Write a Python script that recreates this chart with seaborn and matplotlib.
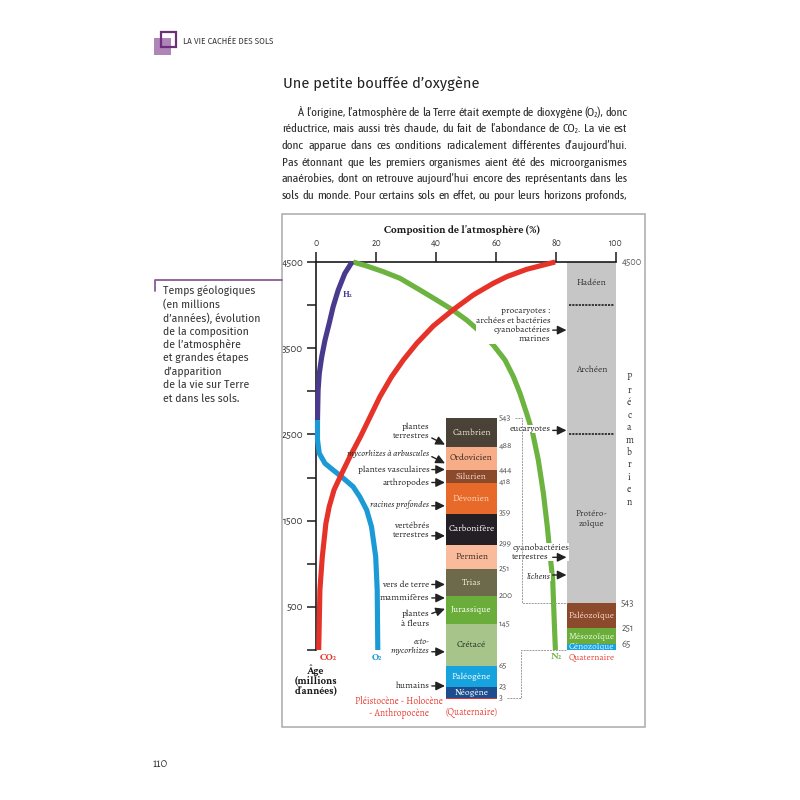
import matplotlib
matplotlib.use("Agg")
import matplotlib.pyplot as plt
import seaborn as sns
import numpy as np
import pandas as pd
from matplotlib import font_manager
from matplotlib.patches import Rectangle
from matplotlib.lines import Line2D

# ------------------------------------------------------------------ data
header_text = "LA VIE CACHÉE DES SOLS"
page_title = "Une petite bouffée d’oxygène"
body_lines = [
    "À l’origine, l’atmosphère de la Terre était exempte de dioxygène (O₂), donc",
    "réductrice, mais aussi très chaude, du fait de l’abondance de CO₂. La vie est",
    "donc apparue dans ces conditions radicalement différentes d’aujourd’hui.",
    "Pas étonnant que les premiers organismes aient été des microorganismes",
    "anaérobies, dont on retrouve aujourd’hui encore des représentants dans les",
    "sols du monde. Pour certains sols en effet, ou pour leurs horizons profonds,",
]
caption_lines = [
    "Temps géologiques", "(en millions", "d’années), évolution", "de la composition",
    "de l’atmosphère", "et grandes étapes", "d’apparition", "de la vie sur Terre",
    "et dans les sols.",
]
page_number = "110"
axis_title = "Composition de l’atmosphère (%)"
age_title = "Âge\n(millions\nd’années)"

pct_ticks = [0, 20, 40, 60, 80, 100]
age_ticks = [0, 500, 1000, 1500, 2000, 2500, 3000, 3500, 4000, 4500]
age_labelled = [500, 1500, 2500, 3500, 4500]

h2_pct = [12, 9.6, 7.4, 5.7, 4.4, 3.0, 1.9, 1.1, 0.7, 0.5]
h2_age = [4500, 4367, 4174, 3980, 3788, 3594, 3400, 3208, 3014, 2667]
o2_pct = [0.5, 0.5, 1.1, 3.0, 5.7, 8.5, 12.4, 14.6, 16.9, 18.5, 19.9, 20.4, 20.6]
o2_age = [2667, 2435, 2280, 2164, 2087, 2010, 1893, 1777, 1623, 1430, 1082, 696, 0]
co2_pct = [79.7, 70.2, 63.6, 59.1, 52.4, 45.6, 39.1, 33.6, 29.1, 25.2, 21.3, 18.6, 14.9,
           11.3, 8.6, 6.0, 4.4, 3.3, 2.1, 1.3, 0.9]
co2_age = [4500, 4415, 4330, 4253, 4117, 3943, 3758, 3557, 3363, 3170, 2938, 2745, 2480,
           2242, 2049, 1856, 1662, 1469, 1082, 696, 0]
n2_pct = [12.4, 16.9, 22.4, 28, 34.7, 40.2, 45.6, 50.2, 54.7, 59.1, 63, 65.8, 68, 70.2,
          72.2, 74.1, 75.8, 77.1, 78.2, 78.9, 79.4, 79.8]
n2_age = [4500, 4454, 4388, 4311, 4174, 4059, 3943, 3827, 3692, 3537, 3363, 3170, 2977, 2745,
          2520, 2204, 1817, 1430, 1044, 812, 348, 0]

periods = ["Cambrien", "Ordovicien", "Silurien", "Dévonien", "Carbonifère", "Permien",
           "Trias", "Jurassique", "Crétacé", "Paléogène", "Néogène", "Quaternaire"]
period_start = [543, 488, 444, 418, 359, 299, 251, 200, 145, 65, 23, 3]
period_end = [488, 444, 418, 359, 299, 251, 200, 145, 65, 23, 3, 0]
period_colors = ["#4a4236", "#f7ad88", "#8c4a2d", "#e76a2a", "#241f25", "#f9bb9c",
                 "#6c6a4b", "#6aad3a", "#a7c58b", "#17a4de", "#1c4d8e", "#e5332a"]
period_text_colors = ["#eadfcd", "#3b2b22", "#f0d6c4", "#fcd5b6", "#ffffff", "#3b2b22",
                      "#eeebcf", "#ffffff", "#263320", "#ffffff", "#ffffff", "#ffffff"]
period_boundaries = [543, 488, 444, 418, 359, 299, 251, 200, 145, 65, 23, 3]

eons = ["Hadéen", "Archéen", "Protéro-\nzoïque"]
eon_start = [4500, 4000, 2500]
eon_end = [4000, 2500, 543]
eras = ["Paléozoïque", "Mésozoïque", "Cénozoïque"]
era_start = [543, 251, 65]
era_end = [251, 65, 0]
era_colors = ["#8c4a2d", "#6aad3a", "#1aa3dc"]
era_text_colors = ["#f3d9c7", "#e8f6d8", "#e6f3ff"]
era_boundaries = [543, 251, 65]

left_events = ["plantes\nterrestres", "mycorhizes à arbuscules", "plantes vasculaires",
               "arthropodes", "racines profondes", "vertébrés\nterrestres", "vers de terre",
               "mammifères", "plantes\nà fleurs", "ecto-\nmycorhizes", "humains"]
left_event_text_age = [518, 474, 444, 419, 377, 327, 222, 196, 156, 102, 26]
left_event_tail_age = [505, 469, 444, 419, 374, 316, 222, 196, 166, 92, 26]
left_event_tip_age = [492, 456, 444, 419, 374, 316, 222, 196, 175, 92, 26]
left_event_italic = [False, True, False, False, True, False, False, False, False, True, False]

right_events = ["procaryotes :\narchées et bactéries\ncyanobactéries\nmarines", "eucaryotes",
                "cyanobactéries\nterrestres", "lichens"]
right_event_text_age = [3765, 2562, 1133, 850]
right_event_arrow_age = [3710, 2547, 1075, 870]
right_event_italic = [False, False, False, True]

# ------------------------------------------------------------------ style
sns.set_theme(style="white")
ttf = font_manager.fontManager.ttflist
available = {f.name for f in ttf}


def pick(cands, default):
    for c in cands:
        if c in available:
            return c
    return default


def pick_bold(cands, default):
    for c in cands:
        if any(f.name == c and isinstance(f.weight, int) and f.weight >= 600 and f.style == "normal"
               for f in ttf):
            return c
    return default


SERIF = pick(["Alegreya", "Crimson Text", "Liberation Serif"], "DejaVu Serif")
SERIF_B = pick_bold(["Crimson Text", "PT Serif", "Liberation Serif"], "DejaVu Serif")
NUMS = pick(["Alegreya Sans", "Fira Sans", "Lato"], "DejaVu Sans")
SANS = pick(["Fira Sans", "Lato", "Liberation Sans"], "DejaVu Sans")
NARROW = pick(["Asap Condensed", "Archivo Narrow", "Liberation Sans Narrow"], "Liberation Sans")
plt.rcParams["font.family"] = [SERIF, "DejaVu Serif"]
plt.rcParams["axes.unicode_minus"] = False

C_H2, C_O2, C_CO2, C_N2 = "#4a3a8e", "#1b9ad6", "#e63329", "#6db33f"
INK = "#262626"
RED_TXT = "#e8433a"

W = H = 800
fig = plt.figure(figsize=(8, 8), dpi=100, facecolor="white")
renderer = fig.canvas.get_renderer()


def fx(px):
    return px / W


def fy(py):
    return 1 - py / H


def px_axes(x0, y0, x1, y1):
    return fig.add_axes([fx(x0), fy(y1), (x1 - x0) / W, (y1 - y0) / H])


def measure(s, **kw):
    t = fig.text(0, 0, s, **kw)
    w = t.get_window_extent(renderer).width
    t.remove()
    return w


def fit(s, width_px, **kw):
    return 10 * width_px / measure(s, fontsize=10, **kw)


SER = [SERIF, "DejaVu Serif"]
SERB = [SERIF_B, "DejaVu Serif"]
NUM = [NUMS, "DejaVu Sans"]
fs_event = fit("plantes vasculaires", 72, family=SER)
fs_cell = fit("Carbonifère", 46, family=SER)
fs_eon = fit("Paléozoïque", 46, family=SER)
fs_title_ax = fit(axis_title, 158, family=SERB, fontweight="bold")
fs_age = fit("(millions", 42, family=SERB, fontweight="bold")
fs_gas = fit("CO₂", 17, family=SERB, fontweight="bold")
fs_red = fit("Pléistocène - Holocène", 88, family=SER)
fs_ytick = fit("3500", 21, family=NUM)
fs_xtick = fit("100", 13.5, family=NUM)
fs_colnum = fit("543", 12, family=NUM)
fs_eranum = fit("543", 13.3, family=NUM)

# ------------------------------------------------------------------ page header
fig.add_artist(Rectangle((fx(154), fy(54.5)), 16.7 / W, 17 / H, transform=fig.transFigure,
                         facecolor="#a778b0", edgecolor="none", alpha=0.9))
fig.add_artist(Rectangle((fx(160.5), fy(47)), 15 / W, 15 / H, transform=fig.transFigure,
                         facecolor="none", edgecolor="#6e2f7a", linewidth=1.6))
fig.text(fx(183), fy(41), header_text, family=[SANS, "DejaVu Sans"], fontsize=5.9,
         color="#3a3a3a", va="center", ha="left")

# title
tsize = fit(page_title, 195, family=[SANS, "DejaVu Sans"])
fig.text(fx(283), fy(89), page_title, family=[SANS, "DejaVu Sans"], fontsize=tsize,
         color="#222222", va="baseline", ha="left")

# justified body text
body_x0 = [298, 282, 282, 282, 282, 282]
body_x1 = 627
bprops = dict(family=[NARROW, "DejaVu Sans"], color="#2b2b2b")
base = 8.8
ratio = min((body_x1 - x0) / measure(l, fontsize=base, **bprops) for l, x0 in zip(body_lines, body_x0))
bsize = base * min(1.0, ratio * 0.99)
for i, (line, x0) in enumerate(zip(body_lines, body_x0)):
    words = line.split(" ")
    widths = [measure(w, fontsize=bsize, **bprops) for w in words]
    gap = (body_x1 - x0 - sum(widths)) / (len(words) - 1)
    x = x0
    yb = 115.5 + i * 16.67
    for w, wd in zip(words, widths):
        fig.text(fx(x), fy(yb), w, fontsize=bsize, va="baseline", ha="left", **bprops)
        x += wd + gap

# caption
fig.add_artist(Line2D([fx(155), fx(155), fx(282)], [fy(291), fy(279.5), fy(279.5)],
                      transform=fig.transFigure, color="#8a5a96", linewidth=1.3))
cap_size = fit("de l’atmosphère", 77, family=[SANS, "DejaVu Sans"])
for i, line in enumerate(caption_lines):
    fig.text(fx(163), fy(295 + i * 13.33), line, family=[SANS, "DejaVu Sans"], fontsize=cap_size,
             color="#333333", va="baseline", ha="left")

fig.text(fx(153), fy(768), page_number, fontsize=9, color="#333333", va="baseline", ha="left")

# frame
fig.add_artist(Rectangle((fx(282), fy(727)), (645 - 282) / W, (727 - 214) / H,
                         transform=fig.transFigure, facecolor="none", edgecolor="#a9a9a9",
                         linewidth=1.1))

# ------------------------------------------------------------------ main axes
ax = px_axes(316, 262, 616, 650)
ax.set_xlim(0, 100)
ax.set_ylim(0, 4500)
ax.patch.set_alpha(0)
ax.grid(False)
for s in ["right", "bottom"]:
    ax.spines[s].set_visible(False)
for s in ["top", "left"]:
    ax.spines[s].set_linewidth(1.2)
    ax.spines[s].set_color("#1a1a1a")
ax.xaxis.tick_top()
ax.set_xticks(pct_ticks)
ax.set_xticklabels([str(v) for v in pct_ticks])
ax.set_yticks(age_ticks)
ax.set_yticklabels([str(v) if v in age_labelled else "" for v in age_ticks])
ax.tick_params(axis="x", top=True, bottom=False, direction="out", length=7, width=1.1,
               pad=3, labelsize=fs_xtick, labelcolor="#333333", color="#1a1a1a")
ax.tick_params(axis="y", left=True, direction="out", length=6.7, width=1.1, pad=2.5,
               labelsize=fs_ytick, labelcolor="#333333", color="#1a1a1a")
for lab in ax.get_xticklabels() + ax.get_yticklabels():
    lab.set_family(NUM)

# right column: eons (grey) and eras
ax.bar(x=[91.8] * len(eons), height=np.array(eon_start) - np.array(eon_end), bottom=eon_end,
       width=16.4, color="#c6c6c6", edgecolor="none", zorder=1)
ax.hlines([4000, 2500], 84.3, 99.3, colors="#2a2a2a", linestyles=(0, (1.2, 0.6)), linewidth=1.3, zorder=2)
for name, s, e in zip(eons, eon_start, eon_end):
    ax.text(91.8, (s + e) / 2 if name != "Hadéen" else 4255, name, ha="center", va="center",
            fontsize=fs_eon, color="#333333", linespacing=1.1)
ax.bar(x=[91.8] * len(eras), height=np.array(era_start) - np.array(era_end), bottom=era_end,
       width=16.4, color=era_colors, edgecolor="none", zorder=1)
for name, s, e, tc in zip(eras, era_start, era_end, era_text_colors):
    ax.text(91.8, (s + e) / 2, name, ha="center", va="center", fontsize=fs_eon, color=tc,
            zorder=3, clip_on=False)
ax.text(91.8, -92, "Quaternaire", ha="center", va="center", fontsize=fs_eon, color=RED_TXT)
for b in era_boundaries:
    ax.text(101.7, b, str(b), ha="left", va="center", fontsize=fs_eranum, color="#555555",
            family=NUM)
ax.text(101.9, 4500, "4500", ha="left", va="center", fontsize=fs_eranum, color="#555555",
        family=NUM)
ax.text(104.4, 2435, "\n".join("Précambrien"), ha="center", va="center", fontsize=fs_eon * 1.05,
        color="#333333", linespacing=1.17)

# curves
for pct, age, col in [(n2_pct, n2_age, C_N2), (h2_pct, h2_age, C_H2),
                      (o2_pct, o2_age, C_O2), (co2_pct, co2_age, C_CO2)]:
    sns.lineplot(x=pct, y=age, sort=False, estimator=None, ax=ax, color=col, linewidth=3.7,
                 solid_capstyle="butt", solid_joinstyle="round", clip_on=False, zorder=4)

ax.text(10.4, 4116, "H₂", color=C_H2, fontsize=fs_gas * 0.9, fontweight="bold", family=SERB,
        ha="center", va="center")
ax.text(1.3, -85, "CO₂", color=C_CO2, fontsize=fs_gas, fontweight="bold", family=SERB,
        ha="left", va="center")
ax.text(20.2, -85, "O₂", color=C_O2, fontsize=fs_gas, fontweight="bold", family=SERB,
        ha="center", va="center")
ax.text(80, -85, "N₂", color=C_N2, fontsize=fs_gas, fontweight="bold", family=SERB,
        ha="center", va="center")
ax.text(0, -352, age_title, ha="center", va="center", fontsize=fs_age, fontweight="bold",
        family=SERB, color="#1a1a1a", linespacing=1.02)
ax.text(48.6, 4871, axis_title, ha="center", va="center", fontsize=fs_title_ax, fontweight="bold",
        family=SERB, color="#1a1a1a")

# right events
arrow_kw = dict(arrowstyle="-|>,head_length=0.45,head_width=0.22", color="#222222", lw=1.0,
                shrinkA=0, shrinkB=0)
for i, (lab, ta, aa, it) in enumerate(zip(right_events, right_event_text_age,
                                          right_event_arrow_age, right_event_italic)):
    if lab.startswith("cyanobactéries"):
        xt, ha = 65.4, "left"
    else:
        xt, ha = 78.2, "right"
    ax.text(xt, ta, lab, ha=ha, va="center", fontsize=fs_event, color=INK,
            style="italic" if it else "normal", linespacing=1.18, zorder=6,
            bbox=dict(facecolor="white", edgecolor="none", pad=0.1))
    ax.annotate("", xy=(83.5, aa), xytext=(78.9, aa), arrowprops=arrow_kw, zorder=6)

# ------------------------------------------------------------------ geological column
ax2 = px_axes(316, 418.3, 616, 699.4)
ax2.set_xlim(0, 100)
ax2.set_ylim(0, 543)
ax2.axis("off")
ax2.patch.set_alpha(0)
ax2.bar(x=[51.8] * len(periods), height=np.array(period_start) - np.array(period_end),
        bottom=period_end, width=17, color=period_colors, edgecolor="none")
for name, s, e, tc in zip(periods, period_start, period_end, period_text_colors):
    if name == "Quaternaire":
        continue
    ax2.text(51.8, (s + e) / 2, name, ha="center", va="center", fontsize=fs_cell, color=tc)
for b in period_boundaries:
    ax2.text(60.8, b, str(b), ha="left", va="center", fontsize=fs_colnum, color="#555555",
             family=NUM)
ax2.text(51.7, -25.7, "(Quaternaire)", ha="center", va="center", fontsize=fs_red, color=RED_TXT)
ax2.text(27.7, -16, "Pléistocène - Holocène\n- Anthropocène", ha="center", va="center",
         fontsize=fs_red, color=RED_TXT, linespacing=1.1)

for lab, ta, tl, tp, it in zip(left_events, left_event_text_age, left_event_tail_age,
                               left_event_tip_age, left_event_italic):
    ax2.text(37.8, ta, lab, ha="right", va="center", fontsize=fs_event, color=INK,
             style="italic" if it else "normal", linespacing=1.12)
    ax2.annotate("", xy=(43.0, tp), xytext=(38.6, tl), arrowprops=arrow_kw)

# connectors between the expanded column and the main time scale
inv = fig.transFigure.inverted()


def to_fig(a, x, y):
    return inv.transform(a.transData.transform((x, y)))


for pts in ([to_fig(ax2, 66.4, 543), to_fig(ax2, 68.5, 543), to_fig(ax, 68.5, 543), to_fig(ax, 83.5, 543)],
            [to_fig(ax2, 63.6, 3), to_fig(ax2, 68.3, 3), to_fig(ax, 68.3, 0), to_fig(ax, 83.5, 0)]):
    pts = np.array(pts)
    fig.add_artist(Line2D(pts[:, 0], pts[:, 1], transform=fig.transFigure, color="#9a9a9a",
                          linewidth=0.7, linestyle=(0, (2, 1))))

fig.savefig("out.png", dpi=100, facecolor="white")
